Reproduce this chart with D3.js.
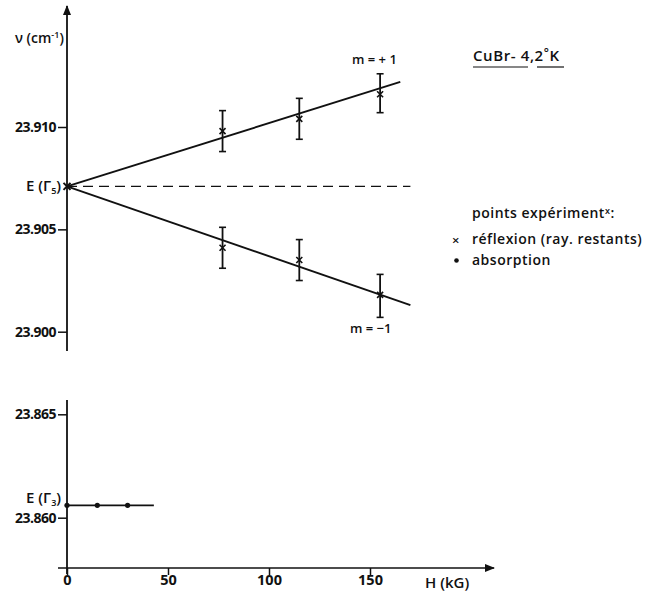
<!DOCTYPE html>
<html>
<head>
<meta charset="utf-8">
<script src="https://cdn.jsdelivr.net/npm/d3@7"></script>
<style>
  body { margin: 0; background: #fff; }
  text { font-family: "Open Sans", sans-serif; font-weight: 600; fill: #111; }
</style>
</head>
<body>
<div id="chart"></div>
<script>
// field H (kG) of the reflexion points
const fieldH = [77, 115, 155];
// m = +1 branch
const plusVal = [23.9098, 23.9104, 23.9116];
const plusLo = [23.9088, 23.9094, 23.9107];
const plusHi = [23.9108, 23.9114, 23.9126];
// m = -1 branch
const minusVal = [23.9041, 23.9035, 23.9018];
const minusLo = [23.9031, 23.9025, 23.9007];
const minusHi = [23.9051, 23.9045, 23.9028];
// zero-field level and fitted line ends
const e5 = 23.9071;
const plusLine = [[0, e5], [165, 23.9122]];
const minusLine = [[0, e5], [170, 23.9013]];
const dashLine = [[0, e5], [170, e5]];
// absorption (Gamma3)
const absH = [0, 15, 30];
const absVal = [23.8606, 23.8606, 23.8606];
const absLine = [[0, 23.8606], [43, 23.8606]];

const topTicks = [23.900, 23.905, 23.910];
const lowTicks = [23.860, 23.865];
const xTicks = [0, 50, 100, 150];

let width = 656, height = 591;
let svg = d3.select("#chart")
    .append("svg")
    .attr("width", width)
    .attr("height", height);

let x = d3.scaleLinear().domain([0, 150]).range([67, 370]);
let yTop = d3.scaleLinear().domain([23.900, 23.910]).range([331.7, 127]);
let yLow = d3.scaleLinear().domain([23.860, 23.865]).range([517.7, 414.3]);

const ink = "#111";

// arrow marker
svg.append("defs").append("marker")
    .attr("id", "arr")
    .attr("viewBox", "0 0 10 10")
    .attr("refX", 9).attr("refY", 5)
    .attr("markerWidth", 10).attr("markerHeight", 10)
    .attr("markerUnits", "userSpaceOnUse")
    .attr("orient", "auto")
    .append("path")
    .attr("d", "M0,1 L10,5 L0,9 Z")
    .attr("fill", ink);

// upper y axis
svg.append("line")
    .attr("x1", x(0)).attr("x2", x(0))
    .attr("y1", 351).attr("y2", 6)
    .attr("stroke", ink).attr("stroke-width", 1.8)
    .attr("marker-end", "url(#arr)");

// lower y axis
svg.append("line")
    .attr("x1", x(0)).attr("x2", x(0))
    .attr("y1", 400).attr("y2", 574)
    .attr("stroke", ink).attr("stroke-width", 1.8);

// x axis
svg.append("line")
    .attr("x1", 58).attr("x2", 494)
    .attr("y1", 568).attr("y2", 568)
    .attr("stroke", ink).attr("stroke-width", 1.6)
    .attr("marker-end", "url(#arr)");

let yAxisTop = d3.axisLeft(yTop).tickValues(topTicks).tickSize(9).tickFormat(d3.format(".3f"));
let gTop = svg.append("g").attr("transform", "translate(" + x(0) + ",0)").call(yAxisTop);
let yAxisLow = d3.axisLeft(yLow).tickValues(lowTicks).tickSize(9).tickFormat(d3.format(".3f"));
let gLow = svg.append("g").attr("transform", "translate(" + x(0) + ",0)").call(yAxisLow);
let xAxis = d3.axisBottom(x).tickValues(xTicks).tickSize(7).tickFormat(d3.format("d"));
let gX = svg.append("g").attr("transform", "translate(0,568)").call(xAxis);

[gTop, gLow, gX].forEach(g => {
    g.select(".domain").remove();
    g.selectAll(".tick line").attr("stroke", ink).attr("stroke-width", 1.5);
    g.selectAll(".tick text")
        .attr("fill", ink)
        .style("font-family", "'Open Sans', sans-serif")
        .style("font-weight", 700)
        .style("letter-spacing", "-0.5px")
        .style("font-size", "14px");
});
gTop.selectAll(".tick text").attr("x", -11);
gLow.selectAll(".tick text").attr("x", -11);
gX.selectAll(".tick text").style("font-size", "14.5px").attr("y", 7).style("letter-spacing", "0px");

let line = d3.line().x(d => x(d[0]));

// dashed zero-field line
svg.append("path")
    .attr("d", line.y(d => yTop(d[1]))(dashLine))
    .attr("fill", "none").attr("stroke", ink)
    .attr("stroke-width", 1.3).attr("stroke-dasharray", "10,6");

// fitted lines
[plusLine, minusLine].forEach(l => {
    svg.append("path")
        .attr("d", line.y(d => yTop(d[1]))(l))
        .attr("fill", "none").attr("stroke", ink)
        .attr("stroke-width", 1.9);
});

// error bars + crosses
function drawBranch(vals, lo, hi) {
    fieldH.forEach((h, i) => {
        let cx = x(h);
        svg.append("line")
            .attr("x1", cx).attr("x2", cx)
            .attr("y1", yTop(lo[i])).attr("y2", yTop(hi[i]))
            .attr("stroke", ink).attr("stroke-width", 1.8);
        [lo[i], hi[i]].forEach(v => {
            svg.append("line")
                .attr("x1", cx - 3.5).attr("x2", cx + 3.5)
                .attr("y1", yTop(v)).attr("y2", yTop(v))
                .attr("stroke", ink).attr("stroke-width", 1.6);
        });
        let cy = yTop(vals[i]);
        svg.append("path")
            .attr("d", "M" + (cx - 3) + "," + (cy - 3) + "L" + (cx + 3) + "," + (cy + 3) +
                "M" + (cx + 3) + "," + (cy - 3) + "L" + (cx - 3) + "," + (cy + 3))
            .attr("stroke", ink).attr("stroke-width", 1.6);
    });
}
drawBranch(plusVal, plusLo, plusHi);
drawBranch(minusVal, minusLo, minusHi);

// cross at zero field
let zx = x(0), zy = yTop(e5);
svg.append("path")
    .attr("d", "M" + (zx - 3.5) + "," + (zy - 3.5) + "L" + (zx + 3.5) + "," + (zy + 3.5) +
        "M" + (zx + 3.5) + "," + (zy - 3.5) + "L" + (zx - 3.5) + "," + (zy + 3.5))
    .attr("stroke", ink).attr("stroke-width", 2);

// absorption line and dots
svg.append("path")
    .attr("d", line.y(d => yLow(d[1]))(absLine))
    .attr("fill", "none").attr("stroke", ink).attr("stroke-width", 1.8);
svg.selectAll(".abs")
    .data(absH)
    .join("circle")
    .attr("class", "abs")
    .attr("cx", d => x(d))
    .attr("cy", (d, i) => yLow(absVal[i]))
    .attr("r", 2.6)
    .attr("fill", ink);

// labels
let ylab = svg.append("text").attr("x", 15).attr("y", 43).style("font-size", "14px");
ylab.append("tspan").text("ν (cm");
ylab.append("tspan").text("-1").attr("dy", -5).style("font-size", "9px");
ylab.append("tspan").text(")").attr("dy", 5);

function eLabel(y, sub) {
    let t = svg.append("text").attr("x", 26).attr("y", y).style("font-size", "15px");
    t.append("tspan").text("E (Γ");
    t.append("tspan").text(sub).attr("dy", 3).style("font-size", "9px");
    t.append("tspan").text(")").attr("dy", -3);
}
eLabel(yTop(e5) + 5, "5");
eLabel(503, "3");

svg.append("text").attr("x", 352).attr("y", 64).style("font-size", "13px").text("m = + 1");
svg.append("text").attr("x", 350).attr("y", 333).style("font-size", "13px").text("m = −1");

// title
let title = svg.append("text").attr("x", 473).attr("y", 61)
    .style("font-size", "15px").style("letter-spacing", "0.6px");
title.append("tspan").text("CuBr- 4,2");
title.append("tspan").text("°").attr("dy", -4).style("font-size", "12px");
title.append("tspan").text("K").attr("dy", 4);
svg.append("line").attr("x1", 473).attr("x2", 528).attr("y1", 67).attr("y2", 67)
    .attr("stroke", ink).attr("stroke-width", 1.2);
svg.append("line").attr("x1", 537).attr("x2", 564).attr("y1", 67).attr("y2", 67)
    .attr("stroke", ink).attr("stroke-width", 1.2);

// legend
const legFont = "14px", legSpace = "0.5px";
let leg = svg.append("text").attr("x", 472).attr("y", 218)
    .style("font-size", legFont).style("letter-spacing", legSpace);
leg.append("tspan").text("points  expériment");
leg.append("tspan").text("x").attr("dy", -4).style("font-size", "9px");
leg.append("tspan").text(":").attr("dy", 4);
svg.append("text").attr("x", 452).attr("y", 245).style("font-size", "13px").text("×");
svg.append("text").attr("x", 472).attr("y", 244)
    .style("font-size", legFont).style("letter-spacing", legSpace).text("réflexion (ray. restants)");
svg.append("circle").attr("cx", 456.5).attr("cy", 260.5).attr("r", 2.3).attr("fill", ink);
svg.append("text").attr("x", 472).attr("y", 265)
    .style("font-size", legFont).style("letter-spacing", legSpace).text("absorption");

svg.append("text").attr("x", 425).attr("y", 588).style("font-size", "15px").text("H (kG)");
</script>
</body>
</html>
